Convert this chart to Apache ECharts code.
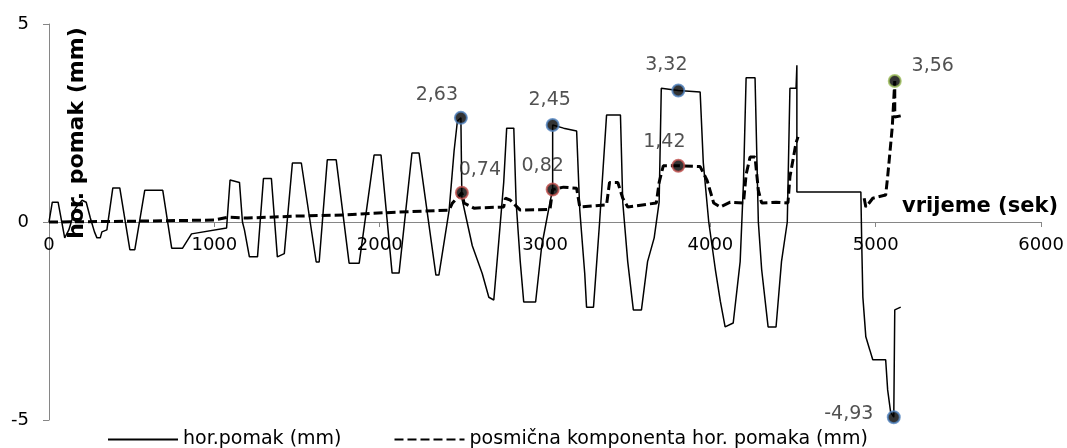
<!DOCTYPE html>
<html>
<head>
<meta charset="utf-8">
<script src="https://cdn.jsdelivr.net/npm/echarts@6/dist/echarts.min.js"></script>
<style>html,body{margin:0;padding:0;background:#fff}#c{width:1067px;height:448px}</style>
</head>
<body>
<div id="c"></div>
<script>
// X axis ticks
const xTicks = [0, 1000, 2000, 3000, 4000, 5000, 6000];
const yTicks = [-5, 0, 5];

// hor. pomak (mm) – solid line
const horTime = [0,20,55,95,120,160,200,225,250,275,290,310,320,350,386,428,489,519,579,688,742,808,862,1074,1095,1152,1170,1182,1212,1261,1297,1345,1381,1423,1472,1526,1616,1634,1683,1737,1815,1876,1966,2008,2075,2117,2195,2238,2340,2358,2420,2450,2470,2491,2497,2560,2620,2660,2690,2720,2750,2768,2811,2825,2850,2871,2943,2980,3030,3046,3046,3112,3191,3210,3240,3251,3293,3330,3372,3456,3470,3500,3534,3583,3620,3660,3690,3703,3806,3938,3957,3990,4030,4060,4089,4138,4180,4200,4216,4270,4290,4310,4349,4397,4430,4465,4481,4518,4523,4523,4910,4915,4922,4940,4964,4982,5060,5072,5090,5109,5115,5151];
const horVals = [0,0.5,0.5,-0.4,-0.2,0.35,0.55,0.5,0.1,-0.25,-0.4,-0.4,-0.25,-0.2,0.86,0.86,-0.7,-0.7,0.8,0.8,-0.66,-0.66,-0.3,-0.15,1.06,1.0,0.0,-0.2,-0.88,-0.88,1.1,1.1,-0.88,-0.8,1.49,1.49,-1.01,-1.01,1.57,1.57,-1.04,-1.04,1.69,1.69,-1.29,-1.29,1.74,1.74,-1.34,-1.34,0.3,1.8,2.55,2.63,0.6,-0.6,-1.3,-1.9,-1.97,-0.5,1.0,2.37,2.37,0.5,-1.0,-2.02,-2.02,-0.6,0.5,0.82,2.45,2.37,2.3,0.3,-1.3,-2.15,-2.15,0.0,2.7,2.7,0.5,-1.0,-2.22,-2.22,-1.0,-0.4,0.5,3.38,3.32,3.28,1.5,0.0,-1.2,-2.0,-2.65,-2.55,-1.0,1.0,3.64,3.64,0.0,-1.2,-2.65,-2.65,-1.0,0.0,3.38,3.38,3.96,0.76,0.76,-0.5,-1.89,-2.9,-3.23,-3.48,-3.48,-4.24,-4.8,-4.93,-2.22,-2.15];

// posmična komponenta hor. pomaka (mm) – dashed line (null = gap)
const posTime = [0,500,1000,1080,1200,1500,1800,2100,2420,2440,2497,2510,2570,2750,2760,2790,2850,3030,3046,3112,3191,3210,3372,3390,3440,3470,3500,3673,3690,3715,3806,3938,3980,4020,4060,4120,4200,4216,4240,4270,4290,4310,4397,4469,4481,4518,4530,4700,4930,4940,4960,4982,5060,5072,5100,5115,5115,5151];
const posVals = [0,0.02,0.05,0.12,0.1,0.15,0.18,0.25,0.3,0.48,0.74,0.48,0.35,0.38,0.6,0.55,0.3,0.32,0.82,0.88,0.85,0.38,0.43,1.0,1.0,0.6,0.38,0.48,1.0,1.42,1.42,1.4,1.05,0.48,0.38,0.5,0.48,1.2,1.64,1.64,0.8,0.48,0.5,0.48,1.14,2.0,2.15,null,0.6,0.38,0.48,0.6,0.68,1.14,2.4,3.56,2.65,2.68];

// labelled points
const horPeakTime = [2491, 3046, 3806, 5109];
const horPeakVals = [2.63, 2.45, 3.32, -4.93];
const posPeakTime = [2497, 3046, 3806];
const posPeakVals = [0.74, 0.82, 1.42];
const endPeakTime = [5115];
const endPeakVals = [3.56];

const horLabelOffsets = [[-24,-23],[-3,-25],[-12,-25],[-45,-3]];
const posLabelOffsets = [[18,-23],[-10,-23],[-14,-24]];
const endLabelOffsets = [[38,-15]];

const FONT = 'DejaVu Sans';
const fmt = p => p.value[1].toFixed(2).replace('.', ',');

function pts(xs, ys, offs) {
  return xs.map((x, i) => ({
    value: [x, ys[i]],
    label: { offset: offs[i] }
  }));
}

const markerLabel = {
  show: true, position: 'inside', formatter: fmt,
  fontFamily: FONT, fontSize: 19, color: '#262626',
  align: 'center', verticalAlign: 'middle'
};

const GRID_TOP = 24, GRID_BOTTOM = 28, H = 448;
const plotH = H - GRID_TOP - GRID_BOTTOM;
// shift x axis up to y = 0
const zeroShift = plotH * (0 - yTicks[0]) / (yTicks[yTicks.length - 1] - yTicks[0]);

const chart = echarts.init(document.getElementById('c'), null, {renderer: 'canvas'});
chart.setOption({
  animation: false,
  backgroundColor: '#fff',
  grid: { left: 49, right: 23, top: GRID_TOP, bottom: GRID_BOTTOM },
  xAxis: {
    type: 'value', min: xTicks[0], max: xTicks[xTicks.length - 1], interval: 1000,
    position: 'bottom', offset: -zeroShift,
    axisLine: { show: true, onZero: false, lineStyle: { color: '#868686', width: 1 } },
    axisTick: { show: true, length: 5, lineStyle: { color: '#868686' } },
    axisLabel: { fontFamily: FONT, fontSize: 18, color: '#000', margin: 14, formatter: v => String(v) },
    splitLine: { show: false }
  },
  yAxis: {
    type: 'value', min: yTicks[0], max: yTicks[yTicks.length - 1], interval: 5,
    axisLine: { show: true, onZero: false, lineStyle: { color: '#868686', width: 1 } },
    axisTick: { show: true, length: 6, lineStyle: { color: '#868686' } },
    axisLabel: { fontFamily: FONT, fontSize: 18, color: '#000', margin: 20, formatter: v => String(v) },
    splitLine: { show: false }
  },
  legend: {
    left: 102, top: 425, itemWidth: 70, itemHeight: 14, itemGap: 52,
    itemStyle: { opacity: 0 },
    textStyle: { fontFamily: FONT, fontSize: 19, color: '#000' },
    data: ['hor.pomak (mm)', 'posmična komponenta hor. pomaka (mm)']
  },
  graphic: [
    { type: 'text', x: 77, y: 133, rotation: Math.PI / 2,
      style: { text: 'hor. pomak (mm)', fontFamily: FONT, fontSize: 22, fontWeight: 'bold', fill: '#000', align: 'center', verticalAlign: 'middle' } },
    { type: 'text', x: 980, y: 207,
      style: { text: 'vrijeme (sek)', fontFamily: FONT, fontSize: 21, fontWeight: 'bold', fill: '#000', align: 'center', verticalAlign: 'middle' } }
  ],
  series: [
    { name: 'hor.pomak (mm)', type: 'line', symbol: 'none',
      data: horTime.map((t, i) => [t, horVals[i]]),
      lineStyle: { color: '#000', width: 1.5 }, itemStyle: { color: '#000' } },
    { name: 'posmična komponenta hor. pomaka (mm)', type: 'line', symbol: 'none',
      data: posTime.map((t, i) => [t, posVals[i]]),
      lineStyle: { color: '#000', width: 3, type: [9, 4] }, itemStyle: { color: '#000' } },
    { type: 'scatter', symbolSize: 12, z: 5,
      data: pts(horPeakTime, horPeakVals, horLabelOffsets),
      itemStyle: { color: '#000', borderColor: '#4f81bd', borderWidth: 2 },
      label: markerLabel },
    { type: 'scatter', symbolSize: 12, z: 5,
      data: pts(posPeakTime, posPeakVals, posLabelOffsets),
      itemStyle: { color: '#000', borderColor: '#c0504d', borderWidth: 2 },
      label: markerLabel },
    { type: 'scatter', symbolSize: 12, z: 5,
      data: pts(endPeakTime, endPeakVals, endLabelOffsets),
      itemStyle: { color: '#000', borderColor: '#9bbb59', borderWidth: 2 },
      label: markerLabel }
  ]
});
</script>
</body>
</html>
